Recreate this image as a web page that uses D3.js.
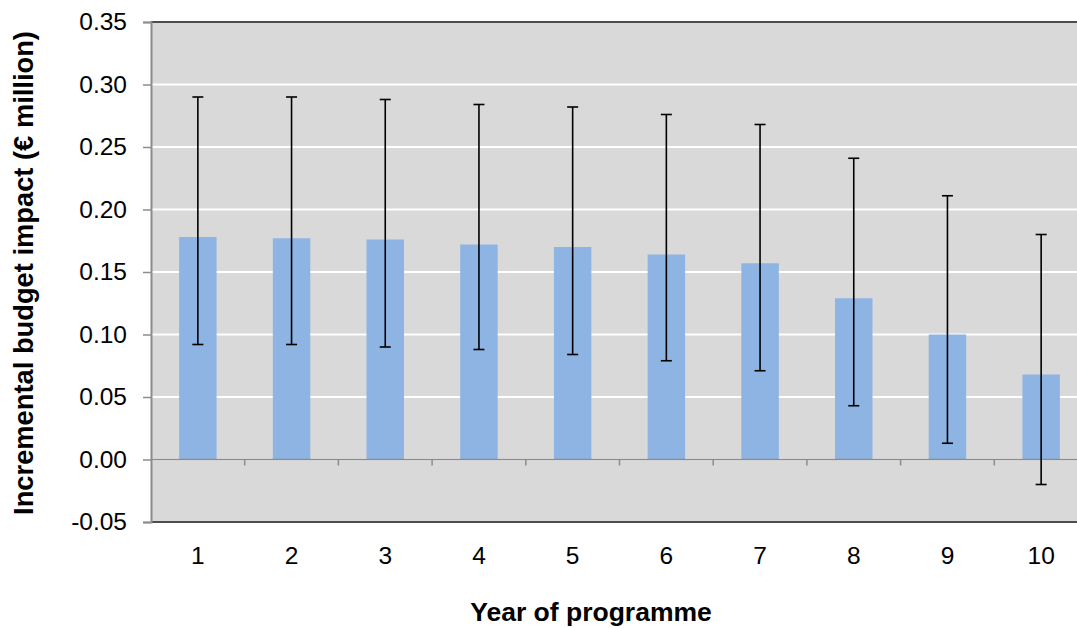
<!DOCTYPE html>
<html>
<head>
<meta charset="utf-8">
<script src="https://cdn.jsdelivr.net/npm/d3@7"></script>
<style>
  body { margin: 0; background: #fff; }
  text { font-family: "Liberation Sans", Arial, sans-serif; }
</style>
</head>
<body>
<div id="chart"></div>
<script>
// chart values
var years = ["1", "2", "3", "4", "5", "6", "7", "8", "9", "10"];
var impact = [0.178, 0.177, 0.176, 0.172, 0.170, 0.164, 0.157, 0.129, 0.100, 0.068];
var upper = [0.290, 0.290, 0.288, 0.284, 0.282, 0.276, 0.268, 0.241, 0.211, 0.180];
var lower = [0.092, 0.092, 0.090, 0.088, 0.084, 0.079, 0.071, 0.043, 0.013, -0.020];
var yTicks = [-0.05, 0, 0.05, 0.10, 0.15, 0.20, 0.25, 0.30, 0.35];

var width = 1077, height = 628;
var margin = {top: 22, right: -11, bottom: 106, left: 151};

var svg = d3.select("#chart")
  .append("svg")
    .attr("width", width)
    .attr("height", height);

var x = d3.scaleBand()
    .domain(years)
    .range([margin.left, width - margin.right])
    .paddingInner(0.6)
    .paddingOuter(0.3);

var y = d3.scaleLinear()
    .domain([-0.05, 0.35])
    .range([height - margin.bottom, margin.top]);

// plot background
svg.append("rect")
  .attr("x", margin.left)
  .attr("y", y(0.35))
  .attr("width", x.range()[1] - margin.left)
  .attr("height", y(-0.05) - y(0.35))
  .attr("fill", "#d9d9d9");

// white gridlines
svg.append("g")
  .selectAll("line")
  .data(yTicks.filter(function(d) { return d > -0.05 && d < 0.35; }))
  .enter()
  .append("line")
    .attr("x1", margin.left)
    .attr("x2", x.range()[1])
    .attr("y1", function(d) { return y(d); })
    .attr("y2", function(d) { return y(d); })
    .attr("stroke", "#fff")
    .attr("stroke-width", 2);

// top and bottom borders
[0.35, -0.05].forEach(function(v) {
  svg.append("line")
    .attr("x1", margin.left)
    .attr("x2", x.range()[1])
    .attr("y1", y(v))
    .attr("y2", y(v))
    .attr("stroke", "#4d4d4d")
    .attr("stroke-width", 2);
});

// bars
var data = years.map(function(d, i) {
  return {year: d, value: impact[i], hi: upper[i], lo: lower[i]};
});

svg.append("g")
  .selectAll("rect")
  .data(data)
  .enter()
  .append("rect")
    .attr("x", function(d) { return x(d.year); })
    .attr("width", x.bandwidth())
    .attr("y", function(d) { return y(d.value); })
    .attr("height", function(d) { return y(0) - y(d.value); })
    .attr("fill", "#8eb4e3");

// zero axis with category ticks
svg.append("line")
  .attr("x1", margin.left)
  .attr("x2", x.range()[1])
  .attr("y1", y(0))
  .attr("y2", y(0))
  .attr("stroke", "#8c8c8c")
  .attr("stroke-width", 1.5);

svg.append("g")
  .selectAll("line")
  .data(years.slice(1))
  .enter()
  .append("line")
    .attr("x1", function(d) { return x(d) - x.step() * x.paddingInner() / 2; })
    .attr("x2", function(d) { return x(d) - x.step() * x.paddingInner() / 2; })
    .attr("y1", y(0))
    .attr("y2", y(0) + 6)
    .attr("stroke", "#8c8c8c")
    .attr("stroke-width", 1.5);

// error bars
var err = svg.append("g")
  .selectAll("g")
  .data(data)
  .enter()
  .append("g")
    .attr("stroke", "#000")
    .attr("stroke-width", 1.6);

err.append("line")
  .attr("x1", function(d) { return x(d.year) + x.bandwidth() / 2; })
  .attr("x2", function(d) { return x(d.year) + x.bandwidth() / 2; })
  .attr("y1", function(d) { return y(d.hi); })
  .attr("y2", function(d) { return y(d.lo); });

["hi", "lo"].forEach(function(k) {
  err.append("line")
    .attr("x1", function(d) { return x(d.year) + x.bandwidth() / 2 - 5.5; })
    .attr("x2", function(d) { return x(d.year) + x.bandwidth() / 2 + 5.5; })
    .attr("y1", function(d) { return y(d[k]); })
    .attr("y2", function(d) { return y(d[k]); });
});

// y axis
var yAxis = svg.append("g")
  .attr("transform", "translate(" + margin.left + ",0)")
  .call(d3.axisLeft(y)
    .tickValues(yTicks)
    .tickSize(8)
    .tickPadding(16)
    .tickFormat(d3.format(".2f")));

yAxis.select(".domain").attr("stroke", "#8c8c8c").attr("stroke-width", 2);
yAxis.selectAll(".tick line").attr("stroke", "#8c8c8c").attr("stroke-width", 1.5);
yAxis.selectAll(".tick text")
  .attr("fill", "#000")
  .style("font-size", "24.5px")
  .style("font-family", "'Liberation Sans', Arial, sans-serif")
  .text(function(d) { return d3.format(".2f")(d).replace("\u2212", "-"); });

// x category labels
svg.append("g")
  .selectAll("text")
  .data(years)
  .enter()
  .append("text")
    .attr("x", function(d) { return x(d) + x.bandwidth() / 2; })
    .attr("y", 564)
    .attr("text-anchor", "middle")
    .style("font-size", "24.5px")
    .text(function(d) { return d; });

// axis titles
svg.append("text")
  .attr("x", 591)
  .attr("y", 621)
  .attr("text-anchor", "middle")
  .style("font-size", "26.5px")
  .style("font-weight", "bold")
  .text("Year of programme");

svg.append("text")
  .attr("transform", "translate(33,273) rotate(-90)")
  .attr("text-anchor", "middle")
  .style("font-size", "27.3px")
  .style("font-weight", "bold")
  .text("Incremental budget impact (\u20ac million)");
</script>
</body>
</html>
